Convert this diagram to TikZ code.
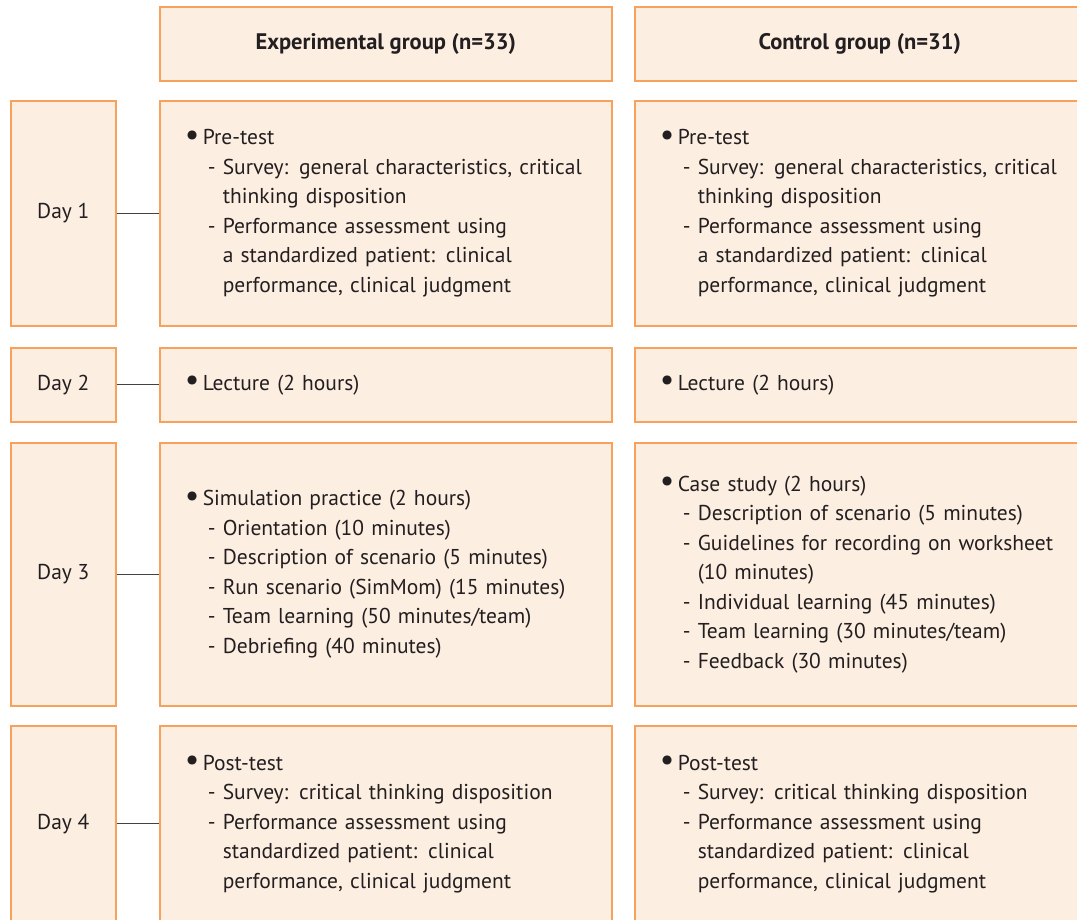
\documentclass[tikz,border=0pt]{standalone}
\usepackage{fontspec}
\usepackage{graphicx}
\setmainfont{PT Sans}
\definecolor{boxfill}{HTML}{FDEEE2}
\definecolor{boxline}{HTML}{F6A25C}
\definecolor{ink}{HTML}{231F20}
\newcommand\bitem[1]{\makebox[18pt][l]{\raisebox{-0.8pt}{\scalebox{1.5}{\textbullet}}}#1}
\newcommand\sitem[1]{\hspace*{23pt}\makebox[15pt][l]{-}#1}
\newcommand\contline[1]{\hspace*{38pt}#1}
\begin{document}
\begin{tikzpicture}[x=1pt,y=-1pt,
  box/.style={draw=boxline, fill=boxfill, line width=1.6pt, anchor=north west, inner sep=0pt},
  daybox/.style={box, minimum width=105pt, font=\fontsize{21.5}{24}\selectfont\color{ink}},
  headbox/.style={box, minimum height=74pt, font=\fontsize{22.5}{24}\selectfont\bfseries\color{ink}},
  cbox/.style={box, align=left, inner xsep=25pt, text width=402pt,
     font=\fontsize{21.5}{29.5}\selectfont\color{ink}},
  conn/.style={draw=ink!85, line width=1.2pt}]
\useasboundingbox (0,0) rectangle (1077,919);
% headers
\node[headbox, minimum width=452pt] (he) at (159,6) {Experimental group (n=33)};
\node[headbox, minimum width=450pt] (hc) at (634,6) {Control group (n=31)};
% day boxes
\node[daybox, minimum height=225pt] (d1) at (10,100) {Day 1};
\node[daybox, minimum height=74pt] (d2) at (10,347) {Day 2};
\node[daybox, minimum height=263pt] (d3) at (10,442) {Day 3};
\node[daybox, minimum height=196pt] (d4) at (10,725) {Day 4};
% day 1
\node[cbox, minimum width=452pt, minimum height=225pt] (e1) at (159,100) {%
\bitem{Pre-test}\\
\sitem{Survey: general characteristics, critical}\\
\contline{thinking disposition}\\
\sitem{Performance assessment using}\\
\contline{a standardized patient: clinical}\\
\contline{performance, clinical judgment}};
\node[cbox, minimum width=450pt, minimum height=225pt] (c1) at (634,100) {%
\bitem{Pre-test}\\
\sitem{Survey: general characteristics, critical}\\
\contline{thinking disposition}\\
\sitem{Performance assessment using}\\
\contline{a standardized patient: clinical}\\
\contline{performance, clinical judgment}};
% day 2
\node[cbox, minimum width=452pt, minimum height=74pt] (e2) at (159,347) {\bitem{Lecture (2 hours)}};
\node[cbox, minimum width=450pt, minimum height=74pt] (c2) at (634,347) {\bitem{Lecture (2 hours)}};
% day 3
\node[cbox, minimum width=452pt, minimum height=263pt] (e3) at (159,442) {%
\bitem{Simulation practice (2 hours)}\\
\sitem{Orientation (10 minutes)}\\
\sitem{Description of scenario (5 minutes)}\\
\sitem{Run scenario (SimMom) (15 minutes)}\\
\sitem{Team learning (50 minutes/team)}\\
\sitem{Debriefing (40 minutes)}};
\node[cbox, minimum width=450pt, minimum height=263pt] (c3) at (634,442) {%
\bitem{Case study (2 hours)}\\
\sitem{Description of scenario (5 minutes)}\\
\sitem{Guidelines for recording on worksheet}\\
\contline{(10 minutes)}\\
\sitem{Individual learning (45 minutes)}\\
\sitem{Team learning (30 minutes/team)}\\
\sitem{Feedback (30 minutes)}};
% day 4
\node[cbox, minimum width=452pt, minimum height=196pt] (e4) at (159,725) {%
\bitem{Post-test}\\
\sitem{Survey: critical thinking disposition}\\
\sitem{Performance assessment using}\\
\contline{standardized patient: clinical}\\
\contline{performance, clinical judgment}};
\node[cbox, minimum width=450pt, minimum height=196pt] (c4) at (634,725) {%
\bitem{Post-test}\\
\sitem{Survey: critical thinking disposition}\\
\sitem{Performance assessment using}\\
\contline{standardized patient: clinical}\\
\contline{performance, clinical judgment}};
% connectors
\draw[conn] (d1.east) -- (d1.east -| e1.west);
\draw[conn] (d2.east) -- (d2.east -| e2.west);
\draw[conn] (d3.east) -- (d3.east -| e3.west);
\draw[conn] (d4.east) -- (d4.east -| e4.west);
\end{tikzpicture}
\end{document}
